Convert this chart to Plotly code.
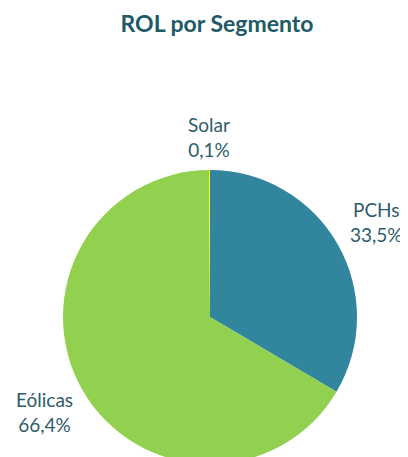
import math
import plotly.graph_objects as go

categories = ["PCHs", "Eólicas", "Solar"]
values = [33.5, 66.4, 0.1]
colors = ["#31859C", "#92D050", "#FFFF00"]
title_text = "ROL por Segmento"

W, H = 400, 480
cx, cy, r = 202, 309, 147

fig = go.Figure(go.Pie(
    labels=categories,
    values=values,
    sort=False,
    direction="clockwise",
    rotation=0,
    marker=dict(colors=colors, line=dict(width=0)),
    textinfo="none",
    showlegend=False,
    hoverinfo="skip",
    domain=dict(x=[(cx - r) / W, (cx + r) / W], y=[(H - cy - r) / H, (H - cy + r) / H]),
))

# Labels placed outside each slice, at the slice's mid-angle (computed from the data)
total = sum(values)
cum = 0.0
for cat, v in zip(categories, values):
    mid = (cum + v / 2) / total * 2 * math.pi
    cum += v
    s, c = math.sin(mid), math.cos(mid)
    D = r + 33 + 13 * abs(s)
    px = cx + D * s
    py = cy - D * c
    pct = f"{v / total * 100:.1f}".replace(".", ",") + "%"
    fig.add_annotation(
        x=px / W, y=1 - py / H, xref="paper", yref="paper",
        text=f"{cat}<br>{pct}", showarrow=False,
        xanchor="center", yanchor="middle", align="center",
        font=dict(family="Lato", size=19, color="#2E5C6B"),
    )

fig.update_layout(
    width=W, height=H,
    margin=dict(l=0, r=0, t=0, b=0),
    paper_bgcolor="white",
    plot_bgcolor="white",
    title=dict(text="<b>" + title_text + "</b>", x=209 / W, xanchor="center",
               y=1 - 16 / H, yanchor="middle",
               font=dict(family="Lato", size=23, color="#215967")),
)

fig.write_html("out.html")
